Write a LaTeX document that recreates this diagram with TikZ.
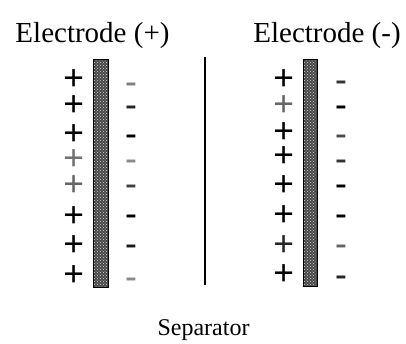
\documentclass[tikz,border=0pt]{standalone}
\usepackage{fontspec}
\setmainfont{Liberation Serif}
\usetikzlibrary{patterns}
\begin{document}
\begin{tikzpicture}[x=1pt,y=-1pt,
  title/.style={font=\fontsize{29}{29}\selectfont, anchor=base, inner sep=0},
  sep/.style={font=\fontsize{24}{24}\selectfont, anchor=base, inner sep=0},
  pluschar/.style={font=\fontsize{37}{37}\selectfont\bfseries, anchor=base, inner sep=0},
  minuschar/.style={font=\fontsize{34}{34}\selectfont\bfseries, anchor=base, inner sep=0},
  electrode/.style={draw=black, line width=1pt, fill=black!72, inner sep=0},
  dotfill/.style={pattern=crosshatch dots, pattern color=white!85!black}
]
\useasboundingbox (0,0) rectangle (406,343);
% titles
\node[title] (tl) at (92.5,42) {Electrode (+)};
\node[title] (tr) at (327,42) {Electrode (-)};
\node[sep] (sl) at (203.5,335) {Separator};
% electrodes
\draw[electrode] (93,59) rectangle (108,287);
\fill[dotfill] (94,60) rectangle (107,286);
\draw[electrode] (303,59) rectangle (317,286);
\fill[dotfill] (304,60) rectangle (316,285);
% separator
\coordinate (st) at (205,57);
\coordinate (sb) at (205,285);
\draw[line width=2.4pt] (st) -- (sb);
% left plus
\foreach \y/\c [count=\i] in {81/black,107/black,136/black,161/black!55,187.5/black!60,218/black,247/black,277/black}
  \node[pluschar, text=\c] (lp\i) at (74,\y+9.4) {+};
% right plus
\foreach \y/\c [count=\i] in {81/black,107/black!60,134/black,158/black,187/black,217/black,247/black!85,276/black}
  \node[pluschar, text=\c] (rp\i) at (284,\y+9.4) {+};
% left minus
\foreach \y/\c [count=\i] in {85/black!50,108/black!85,137/black,162/black!45,187/black!75,217/black,247/black!90,280/black!45}
  \node[minuschar, text=\c] (lm\i) at (131,\y+7.7) {-};
% right minus
\foreach \y/\c [count=\i] in {83/black!80,108/black,137/black!70,162/black!80,187/black,217/black,247/black!60,278/black!85}
  \node[minuschar, text=\c] (rm\i) at (341,\y+7.7) {-};
\end{tikzpicture}
\end{document}
